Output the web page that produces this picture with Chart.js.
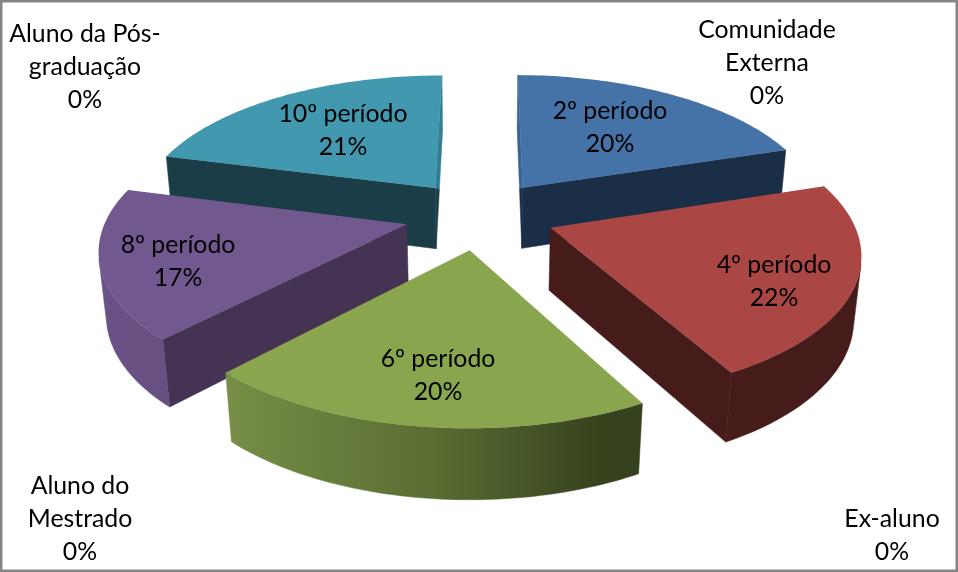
<!DOCTYPE html>
<html><head><meta charset="utf-8">
<style>html,body{margin:0;padding:0;background:#fff}canvas{display:block}</style>
<script src="https://cdn.jsdelivr.net/npm/chart.js@4"></script></head>
<body><canvas id="c" width="958" height="572"></canvas>
<script>
const categories=['2º período','4º período','6º período','8º período','10º período','Aluno da Pós-graduação','Aluno do Mestrado','Ex-aluno','Comunidade Externa'];
const values=[20,22,20,17,21,0,0,0,0];
const explode=0.25;
// camera of the 3-D view: maps pie-plane coordinates (radius 1) to the page
const P=[298.82528,75.89333,479.68012,0.18575,-104.33085,214.60791,-0.00227,0.15619];
const Z=[9.48563,67.44459,0.01975];
function proj(u,v,z){const w=1+P[6]*u+P[7]*v+Z[2]*z;return[(P[0]*u+P[1]*v+P[2]+Z[0]*z)/w,(P[3]*u+P[4]*v+P[5]+Z[1]*z)/w];}
const topColors=['#4673a7','#aa4644','#89a54e','#71588f','#4198af'];
const sideColors=['#1b2e47','#451c1a','#36421d','#453353','#1a3d48'];
const edgeColors=['#3a6291','#451c1a','#36421d','#453353','#327f93'];
const arcStops=[[[0,'#1b2e47'],[1,'#1b2e47']],[[0,'#451c1a'],[1,'#451c1a']],[[0,'#768e45'],[.5,'#5a6d33'],[.9,'#36421d'],[1,'#36421d']],[[0,'#6a5286'],[1,'#5b4674']],[[0,'#1a3d48'],[1,'#1a3d48']]];
const labelBlocks=[[['2º período','20%'],610,111],[['4º período','22%'],774,265],[['6º período','20%'],438,359],[['8º período','17%'],178,245],[['10º período','21%'],343,114],[['Comunidade','Externa','0%'],767,30],[['Aluno da Pós-','graduação','0%'],85,34],[['Aluno do','Mestrado','0%'],80,486],[['Ex-aluno','0%'],892,519]];
const area=q=>{let s=0;q.forEach((m,k)=>{const n=q[(k+1)%q.length];s+=m[0]*n[1]-n[0]*m[1];});return s;};
const trace=(ctx,q)=>{ctx.beginPath();q.forEach((m,k)=>k?ctx.lineTo(m[0],m[1]):ctx.moveTo(m[0],m[1]));ctx.closePath();};
const scene={id:'scene',beforeDatasetsDraw(chart){
 const ctx=chart.ctx,arcs=chart.getDatasetMeta(0).data;
 const items=arcs.map((a,i)=>({a,i})).filter(o=>o.a.endAngle-o.a.startAngle>1e-6);
 items.forEach(o=>{o.mid=(o.a.startAngle+o.a.endAngle)/2;o.v=-Math.sin(o.mid);});
 items.sort((p,q)=>q.v-p.v);
 for(const o of items){const a=o.a,e=a.options.offset/a.outerRadius;
  const pt=(ang,r)=>[r*Math.cos(ang)+e*Math.cos(o.mid),-r*Math.sin(ang)-e*Math.sin(o.mid)];
  const ring=[pt(0,0)];const n=64;for(let k=0;k<=n;k++)ring.push(pt(a.startAngle+(a.endAngle-a.startAngle)*k/n,1));
  const T=ring.map(q=>proj(q[0],q[1],0)),B=ring.map(q=>proj(q[0],q[1],1)),L=T.length;
  const side=(i,j)=>{const q=[T[i],T[j],B[j],B[i]];if(area(q)>=0)return;
   // a face seen almost edge-on keeps a lighter tone above the apex, as the lit rim does
   const rim=Math.abs(T[i][0]-T[j][0])<20;let fill=sideColors[o.i];
   if(rim){const ys=[T[i][1],T[j][1]],y0=Math.min(...ys),y1=Math.max(B[i][1],B[j][1]),s=(Math.max(...ys)-y0)/(y1-y0);
    fill=ctx.createLinearGradient(0,y0,0,y1);fill.addColorStop(0,edgeColors[o.i]);fill.addColorStop(s,edgeColors[o.i]);fill.addColorStop(Math.min(1,s+.01),sideColors[o.i]);fill.addColorStop(1,sideColors[o.i]);}
   trace(ctx,q);ctx.fillStyle=ctx.strokeStyle=fill;ctx.lineWidth=.5;ctx.fill();ctx.stroke();};
  side(0,1);side(L-1,0);
  const xs=T.map(q=>q[0]);const g=ctx.createLinearGradient(Math.min(...xs),0,Math.max(...xs),0);arcStops[o.i].forEach(([s,c])=>g.addColorStop(s,c));
  let run=null;const flush=()=>{if(run&&run.length>1){const q=run.map(k=>T[k]).concat(run.slice().reverse().map(k=>B[k]));trace(ctx,q);ctx.fillStyle=ctx.strokeStyle=g;ctx.lineWidth=.5;ctx.fill();ctx.stroke();}run=null;};
  for(let k=1;k<L-1;k++){if(area([T[k],T[k+1],B[k+1],B[k]])<0){if(!run)run=[k];run.push(k+1);}else flush();}
  flush();
  trace(ctx,T);ctx.fillStyle=topColors[o.i];ctx.fill();
 }
 return false;},
 afterDraw(chart){const ctx=chart.ctx;ctx.save();ctx.strokeStyle='#858585';ctx.lineWidth=2.5;ctx.strokeRect(1.25,1.25,955.5,569.5);
  ctx.fillStyle='#000';ctx.textAlign='center';ctx.textBaseline='middle';ctx.font='24.8px Lato';
  const lh=33;for(const[lines,x,y]of labelBlocks){lines.forEach((t,i)=>ctx.fillText(t,x,y+i*lh));}
  ctx.restore();}};
new Chart(document.getElementById('c'),{type:'pie',data:{labels:categories,datasets:[{data:values,offset:explode*572/(2+explode),borderWidth:0}]},
 options:{responsive:false,animation:false,layout:{padding:0},plugins:{legend:{display:false},tooltip:{enabled:false}}},plugins:[scene]});
</script></body></html>
